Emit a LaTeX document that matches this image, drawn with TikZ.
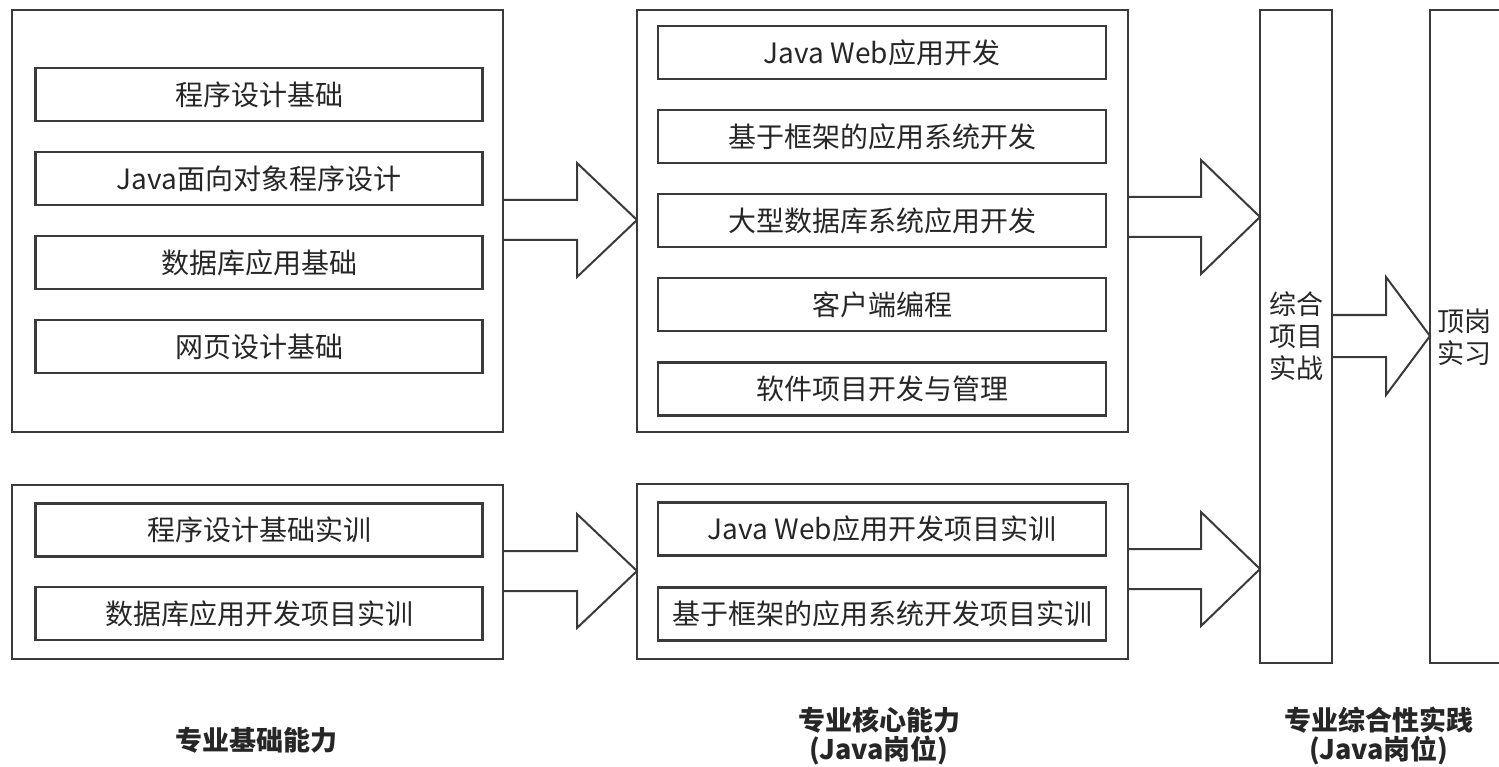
\documentclass[tikz,border=0pt]{standalone}
\usepackage{fontspec}
\setmainfont{Noto Sans CJK SC}
\usetikzlibrary{calc}
\definecolor{ln}{HTML}{3A3A3A}
\definecolor{tx}{HTML}{262626}
\tikzset{
  outerbox/.style={draw=ln, line width=2.2pt, inner sep=0pt, outer sep=0pt},
  itembox/.style={draw=ln, line width=2.2pt, inner sep=0pt, outer sep=0pt, text=tx,
    font=\fontsize{28}{32}\selectfont},
  colbox/.style={draw=ln, line width=2.2pt, inner sep=0pt, outer sep=0pt, text=tx,
    align=center, font=\fontsize{27}{32}\selectfont},
  bigarrow/.style={draw=ln, line width=2pt, line join=miter},
  caption/.style={text=tx, align=center, font=\fontsize{27}{29}\bfseries\selectfont}
}
\newcommand{\blockarrow}[6]{%
  \coordinate (s) at (#1.east |- 0,#3);
  \coordinate (t) at (#2.west |- 0,#3);
  \draw[bigarrow] ($(s)+(0,-#4)$) -- ($(t)+(-#6,-#4)$) -- ($(t)+(-#6,-#5)$) -- (t)
    -- ($(t)+(-#6,#5)$) -- ($(t)+(-#6,#4)$) -- ($(s)+(0,#4)$);
}
\begin{document}
\begin{tikzpicture}[x=1pt,y=-1pt]
\useasboundingbox (0,0) rectangle (1499,767);
% left column
\node[outerbox, minimum width=491pt, minimum height=422pt] (L1) at (257.5,221) {};
\node[itembox, minimum width=447pt, minimum height=53pt] (l1) at (259,94.5) {程序设计基础};
\node[itembox, minimum width=447pt, minimum height=53pt] (l2) at (259,178.5) {Java面向对象程序设计};
\node[itembox, minimum width=447pt, minimum height=53pt] (l3) at (259,262.5) {数据库应用基础};
\node[itembox, minimum width=447pt, minimum height=53pt] (l4) at (259,346.5) {网页设计基础};
\node[outerbox, minimum width=491pt, minimum height=174pt] (L2) at (257.5,572) {};
\node[itembox, minimum width=447pt, minimum height=53pt] (l5) at (259,530) {程序设计基础实训};
\node[itembox, minimum width=447pt, minimum height=53pt] (l6) at (259,613.5) {数据库应用开发项目实训};
% middle column
\node[outerbox, minimum width=491pt, minimum height=422pt] (M1) at (882.5,221) {};
\node[itembox, minimum width=448pt, minimum height=53pt] (m1) at (882,52.5) {Java Web应用开发};
\node[itembox, minimum width=448pt, minimum height=53pt] (m2) at (882,136.5) {基于框架的应用系统开发};
\node[itembox, minimum width=448pt, minimum height=53pt] (m3) at (882,220.5) {大型数据库系统应用开发};
\node[itembox, minimum width=448pt, minimum height=53pt] (m4) at (882,304.5) {客户端编程};
\node[itembox, minimum width=448pt, minimum height=53pt] (m5) at (882,389) {软件项目开发与管理};
\node[outerbox, minimum width=491pt, minimum height=175pt] (M2) at (882.5,571.5) {};
\node[itembox, minimum width=448pt, minimum height=53pt] (m6) at (882,529) {Java Web应用开发项目实训};
\node[itembox, minimum width=448pt, minimum height=53pt] (m7) at (882,614) {基于框架的应用系统开发项目实训};
% right columns
\node[colbox, minimum width=72pt, minimum height=653pt] (C3) at (1296,336.5) {综合\\项目\\实战};
\node[outerbox, minimum width=80pt, minimum height=653pt] (C4) at (1470,336.5) {};
\node[colbox, draw=none] (c4t) at (1464,337) {顶岗\\实习};
% arrows
\blockarrow{L1}{M1}{220}{20}{57}{60}
\blockarrow{L2}{M2}{571}{20}{57}{60}
\blockarrow{M1}{C3}{217}{20}{57}{59}
\blockarrow{M2}{C3}{569}{20}{57}{59}
\blockarrow{C3}{C4}{336}{21}{59}{44}
% captions
\node[caption] (cap1) at (256,740) {专业基础能力};
\node[caption] (cap2) at (879,736) {专业核心能力\\(Java岗位)};
\node[caption] (cap3) at (1379,736) {专业综合性实践\\(Java岗位)};
\end{tikzpicture}
\end{document}
